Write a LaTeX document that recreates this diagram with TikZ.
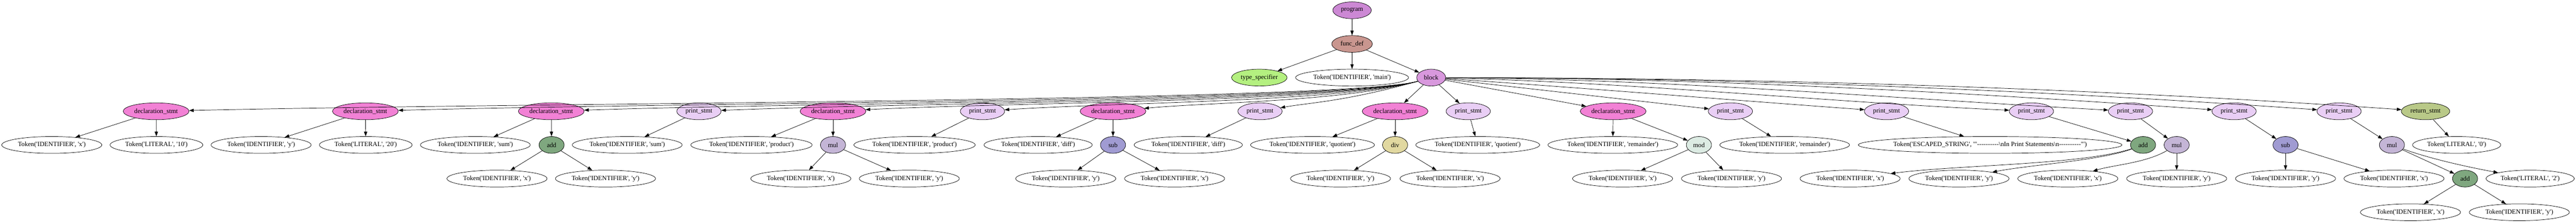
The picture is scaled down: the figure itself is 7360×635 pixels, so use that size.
\documentclass[tikz,border=0pt]{standalone}
\usepackage{fontspec}
\setmainfont{Liberation Serif}[Ligatures=TeXOff]
\usetikzlibrary{shapes.geometric,arrows.meta}
\definecolor{cProg}{HTML}{CC88D4}
\definecolor{cFunc}{HTML}{C9968F}
\definecolor{cType}{HTML}{B4F080}
\definecolor{cBlock}{HTML}{D898DD}
\definecolor{cDecl}{HTML}{F281D5}
\definecolor{cPrint}{HTML}{E9CEF5}
\definecolor{cRet}{HTML}{B9C988}
\definecolor{cAdd}{HTML}{7FA77F}
\definecolor{cMul}{HTML}{C4B5D6}
\definecolor{cSub}{HTML}{A09BD2}
\definecolor{cDiv}{HTML}{E1D8A0}
\definecolor{cMod}{HTML}{DCEBE3}
\newcommand{\T}[1]{\makebox[0pt]{#1}}
\newcommand{\TI}[1]{\T{Token('IDENTIFIER', '#1')}}
\newcommand{\TL}[1]{\T{Token('LITERAL', '#1')}}
\begin{document}
\begin{tikzpicture}[x=0.75pt,y=-0.75pt,
  gv/.style={draw, ellipse, line width=0.8pt, minimum height=36pt, inner sep=0pt, font=\fontsize{14}{16}\selectfont},
  tok/.style={gv, fill=white, minimum width=#1},
  decl/.style={gv, fill=cDecl, minimum width=141pt},
  prt/.style={gv, fill=cPrint, minimum width=95pt},
  op/.style={gv, minimum width=54pt, fill=#1},
  arr/.style={-{Triangle[length=10pt,width=7pt]}, line width=0.8pt}]
\useasboundingbox (0,0) rectangle (7360,635);
\def\rA{317.3}\def\rB{413.3}\def\rC{509.3}\def\rD{605.3}
% top
\node[gv, fill=cProg, minimum width=82.5pt] (prog) at (3863,29.3) {program};
\node[gv, fill=cFunc, minimum width=87pt] (func) at (3863,125.3) {func\_def};
\node[gv, fill=cType, minimum width=119pt] (type) at (3598,221.3) {type\_specifier};
\node[tok=242pt] (main) at (3863,221.3) {\TI{main}};
\node[gv, fill=cBlock, minimum width=62pt] (block) at (4089,221.3) {block};
% statements
\node[decl] (d1) at (446,\rA) {declaration\_stmt};
\node[decl] (d2) at (1044,\rA) {declaration\_stmt};
\node[decl] (d3) at (1575,\rA) {declaration\_stmt};
\node[prt] (p1) at (1997,\rA) {print\_stmt};
\node[decl] (d4) at (2380,\rA) {declaration\_stmt};
\node[prt] (p2) at (2807,\rA) {print\_stmt};
\node[decl] (d5) at (3180,\rA) {declaration\_stmt};
\node[prt] (p3) at (3600,\rA) {print\_stmt};
\node[decl] (d6) at (3986,\rA) {declaration\_stmt};
\node[prt] (p4) at (4195,\rA) {print\_stmt};
\node[decl] (d7) at (4609,\rA) {declaration\_stmt};
\node[prt] (p5) at (4944,\rA) {print\_stmt};
\node[prt] (p6) at (5390,\rA) {print\_stmt};
\node[prt] (p7) at (5804,\rA) {print\_stmt};
\node[prt] (p8) at (6087,\rA) {print\_stmt};
\node[prt] (p9) at (6383,\rA) {print\_stmt};
\node[prt] (p10) at (6683,\rA) {print\_stmt};
\node[gv, fill=cRet, minimum width=104pt] (ret) at (6930,\rA) {return\_stmt};
% rank 4
\node[tok=214.5pt] (t1) at (148,\rB) {\TI{x}};
\node[tok=198.75pt] (t2) at (447,\rB) {\TL{10}};
\node[tok=214.5pt] (t3) at (746,\rB) {\TI{y}};
\node[tok=198.75pt] (t4) at (1045,\rB) {\TL{20}};
\node[tok=235.5pt] (t5) at (1358,\rB) {\TI{sum}};
\node[op=cAdd] (a1) at (1576,\rB) {add};
\node[tok=235.5pt] (t6) at (1792,\rB) {\TI{sum}};
\node[tok=260pt] (t7) at (2147,\rB) {\TI{product}};
\node[op=cMul] (m1) at (2380,\rB) {mul};
\node[tok=260pt] (t8) at (2613,\rB) {\TI{product}};
\node[tok=232pt] (t9) at (2966,\rB) {\TI{diff}};
\node[op=cSub] (s1) at (3180,\rB) {sub};
\node[tok=232pt] (t10) at (3395,\rB) {\TI{diff}};
\node[tok=265.5pt] (t11) at (3750,\rB) {\TI{quotient}};
\node[op=cDiv] (dv) at (3986,\rB) {div};
\node[tok=265.5pt] (t12) at (4222,\rB) {\TI{quotient}};
\node[tok=278pt] (t13) at (4608,\rB) {\TI{remainder}};
\node[op=cMod] (md) at (4854,\rB) {mod};
\node[tok=278pt] (t14) at (5099,\rB) {\TI{remainder}};
\node[tok=565pt] (t15) at (5686,\rB) {\T{Token('ESCAPED\_STRING', '"----------\textbackslash nIn Print Statements\textbackslash n----------"')}};
\node[op=cAdd] (a2) at (6123,\rB) {add};
\node[op=cMul] (m2) at (6219,\rB) {mul};
\node[op=cSub] (s2) at (6530,\rB) {sub};
\node[op=cMul] (m3) at (6834,\rB) {mul};
\node[tok=189pt] (t16) at (7019,\rB) {\TL{0}};
% rank 5
\node[tok=214.5pt] (u1) at (1420,\rC) {\TI{x}};
\node[tok=214.5pt] (u2) at (1730,\rC) {\TI{y}};
\node[tok=214.5pt] (u3) at (2288,\rC) {\TI{x}};
\node[tok=214.5pt] (u4) at (2598,\rC) {\TI{y}};
\node[tok=214.5pt] (u5) at (3045,\rC) {\TI{y}};
\node[tok=214.5pt] (u6) at (3356,\rC) {\TI{x}};
\node[tok=214.5pt] (u7) at (3830,\rC) {\TI{y}};
\node[tok=214.5pt] (u8) at (4143,\rC) {\TI{x}};
\node[tok=214.5pt] (u9) at (4636,\rC) {\TI{x}};
\node[tok=214.5pt] (u10) at (4947,\rC) {\TI{y}};
\node[tok=214.5pt] (u11) at (5286,\rC) {\TI{x}};
\node[tok=214.5pt] (u12) at (5597,\rC) {\TI{y}};
\node[tok=214.5pt] (u13) at (5908,\rC) {\TI{x}};
\node[tok=214.5pt] (u14) at (6219,\rC) {\TI{y}};
\node[tok=214.5pt] (u15) at (6530,\rC) {\TI{y}};
\node[tok=214.5pt] (u16) at (6840,\rC) {\TI{x}};
\node[op=cAdd] (a3) at (7043,\rC) {add};
\node[tok=189pt] (u17) at (7229,\rC) {\TL{2}};
% rank 6
\node[tok=214.5pt] (v1) at (6887,\rD) {\TI{x}};
\node[tok=214.5pt] (v2) at (7198,\rD) {\TI{y}};
% edges top
\draw[arr] (prog) -- (func);
\draw[arr] (func) -- (type);
\draw[arr] (func) -- (main);
\draw[arr] (func) -- (block);
% block to left statements
\draw[arr] (block) .. controls (3839,290) and (1539,292) .. (d1);
\draw[arr] (block) .. controls (3839,290) and (1958,292) .. (d2);
\draw[arr] (block) .. controls (3839,290) and (2329,292) .. (d3);
\draw[arr] (block) .. controls (3839,290) and (2625,292) .. (p1);
\draw[arr] (block) .. controls (3839,290) and (2893,292) .. (d4);
\draw[arr] (block) .. controls (3839,290) and (3192,292) .. (p2);
\draw[arr] (block) .. controls (3839,290) and (3453,292) .. (d5);
\draw[arr] (block) .. controls (3839,290) and (3747,292) .. (p3);
\draw[arr] (block) -- (d6);
\draw[arr] (block) -- (p4);
\draw[arr] (block) -- (d7);
\draw[arr] (block) -- (p5);
% block to right statements
\draw[arr] (block) .. controls (4530,251) and (4928,284) .. (p6);
\draw[arr] (block) .. controls (4668,235) and (5204,290) .. (p7);
\draw[arr] (block) .. controls (4762,225) and (5393,280) .. (p8);
\draw[arr] (block) .. controls (4861,222) and (5590,262) .. (p9);
\draw[arr] (block) .. controls (4961,222) and (5790,255) .. (p10);
\draw[arr] (block) .. controls (5041,222) and (5951,250) .. (ret);
% statement subtrees
\draw[arr] (d1) -- (t1);
\draw[arr] (d1) -- (t2);
\draw[arr] (d2) -- (t3);
\draw[arr] (d2) -- (t4);
\draw[arr] (d3) -- (t5);
\draw[arr] (d3) -- (a1);
\draw[arr] (a1) -- (u1);
\draw[arr] (a1) -- (u2);
\draw[arr] (p1) -- (t6);
\draw[arr] (d4) -- (t7);
\draw[arr] (d4) -- (m1);
\draw[arr] (m1) -- (u3);
\draw[arr] (m1) -- (u4);
\draw[arr] (p2) -- (t8);
\draw[arr] (d5) -- (t9);
\draw[arr] (d5) -- (s1);
\draw[arr] (s1) -- (u5);
\draw[arr] (s1) -- (u6);
\draw[arr] (p3) -- (t10);
\draw[arr] (d6) -- (t11);
\draw[arr] (d6) -- (dv);
\draw[arr] (dv) -- (u7);
\draw[arr] (dv) -- (u8);
\draw[arr] (p4) -- (t12);
\draw[arr] (d7) -- (t13);
\draw[arr] (d7) -- (md);
\draw[arr] (md) -- (u9);
\draw[arr] (md) -- (u10);
\draw[arr] (p5) -- (t14);
\draw[arr] (p6) -- (t15);
\draw[arr] (p7) -- (a2);
\draw[arr] (a2) .. controls (5950,470) and (5600,470) .. (u11);
\draw[arr] (a2) .. controls (6000,458) and (5800,470) .. (u12);
\draw[arr] (p8) -- (m2);
\draw[arr] (m2) .. controls (6130,465) and (6040,470) .. (u13);
\draw[arr] (m2) -- (u14);
\draw[arr] (p9) -- (s2);
\draw[arr] (s2) -- (u15);
\draw[arr] (s2) -- (u16);
\draw[arr] (p10) -- (m3);
\draw[arr] (m3) -- (a3);
\draw[arr] (m3) .. controls (6950,455) and (7060,478) .. (u17);
\draw[arr] (a3) -- (v1);
\draw[arr] (a3) -- (v2);
\draw[arr] (ret) -- (t16);
\end{tikzpicture}
\end{document}
